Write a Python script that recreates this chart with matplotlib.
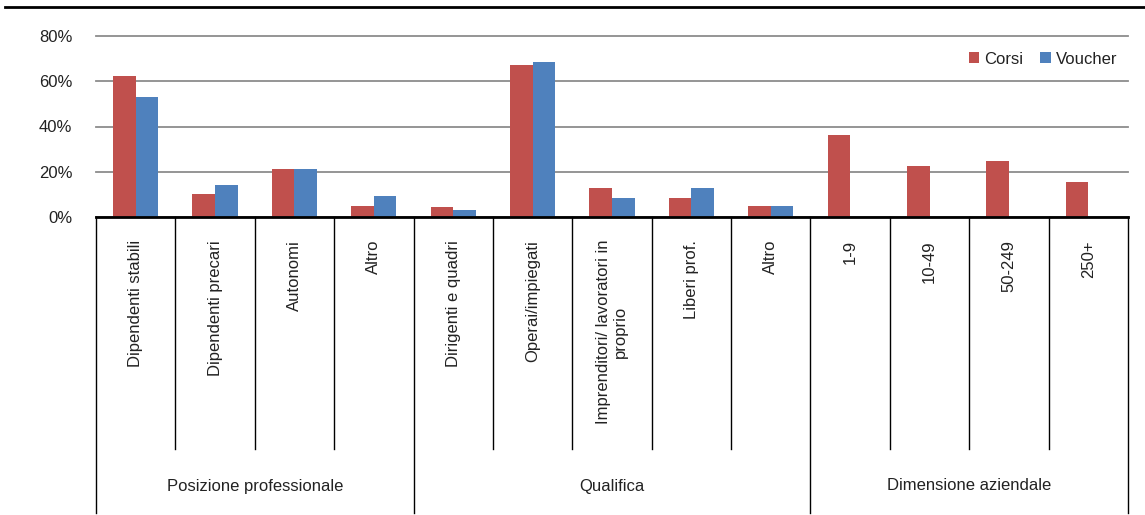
import numpy as np
import matplotlib
matplotlib.use("Agg")
import matplotlib.pyplot as plt
from matplotlib.transforms import blended_transform_factory

plt.rcParams['font.family'] = ['Liberation Sans Narrow', 'Liberation Sans', 'DejaVu Sans']

# Categories and groups
categories = [
    "Dipendenti stabili", "Dipendenti precari", "Autonomi", "Altro",
    "Dirigenti e quadri", "Operai/impiegati", "Imprenditori/ lavoratori in\nproprio",
    "Liberi prof.", "Altro",
    "1-9", "10-49", "50-249", "250+",
]
groups = ["Posizione professionale", "Qualifica", "Dimensione aziendale"]
group_sizes = [4, 5, 4]

# Shares (%)
corsi = [62.2, 10.0, 21.1, 4.8, 4.4, 67.4, 12.6, 8.5, 5.0, 36.4, 22.6, 24.7, 15.5]
voucher = [53.2, 14.1, 21.4, 9.4, 3.1, 68.7, 8.2, 12.6, 4.7,
           np.nan, np.nan, np.nan, np.nan]

yticks = [0, 20, 40, 60, 80]
ytick_labels = ["0%", "20%", "40%", "60%", "80%"]

W, H = 1145, 515
fig = plt.figure(figsize=(W / 100, H / 100), dpi=100)
ax = fig.add_axes([96 / W, (H - 217) / H, (1128 - 96) / W, (217 - 36) / H])

x = np.arange(len(categories))
bw = 0.285
c_red = "#C0504D"
c_blue = "#4F81BD"
ax.bar(x - bw / 2, corsi, bw, color=c_red, label="Corsi", zorder=3)
ax.bar(x + bw / 2, voucher, bw, color=c_blue, label="Voucher", zorder=3)

ax.set_xlim(-0.5, len(categories) - 0.5)
ax.set_ylim(0, 80)
ax.set_yticks(yticks)
ax.set_yticklabels(ytick_labels)
ax.set_xticks([])
ax.tick_params(axis='y', length=0, pad=17, labelsize=12, labelcolor="#222222")
for s in ["top", "right", "left"]:
    ax.spines[s].set_visible(False)
ax.spines["bottom"].set_linewidth(2)
ax.spines["bottom"].set_color("black")
ax.spines["bottom"].set_zorder(4)
ax.yaxis.grid(True, color="#8c8c8c", linewidth=1.3, zorder=0)
for gl in ax.get_ygridlines():
    gl.set_clip_on(False)
ax.set_axisbelow(True)

leg = ax.legend(loc="upper right", bbox_to_anchor=(1124 / W, (H - 45) / H),
                bbox_transform=fig.transFigure, ncol=2, frameon=False,
                fontsize=12, handlelength=0.65, handleheight=0.65,
                handletextpad=0.3, columnspacing=1.0, borderaxespad=0)
for t in leg.get_texts():
    t.set_color("#222222")

# Category separators and labels below the axis
tr = blended_transform_factory(ax.transData, fig.transFigure)
def fy(py):
    return (H - py) / H

bounds = np.cumsum([0] + group_sizes) - 0.5
for b in np.arange(-0.5, len(categories)):
    if np.any(np.isclose(b, bounds)):
        ax.plot([b, b], [fy(217), fy(513)], transform=tr, color="black",
                lw=1, clip_on=False)
    else:
        ax.plot([b, b], [fy(217), fy(449)], transform=tr, color="black",
                lw=1, clip_on=False)

for i, lab in enumerate(categories):
    ax.text(i, fy(240), lab, transform=tr, rotation=90, ha="center", va="top",
            multialignment="center", fontsize=12, color="#222222")

start = 0
for g, n in zip(groups, group_sizes):
    center = start + (n - 1) / 2
    ax.text(center, fy(486), g, transform=tr, ha="center", va="center",
            fontsize=12, color="#222222")
    start += n

# Rule across the top
fig.add_artist(plt.Line2D([5 / W, 1], [fy(7), fy(7)], color="black", lw=2))

fig.savefig("out.png", dpi=100)
